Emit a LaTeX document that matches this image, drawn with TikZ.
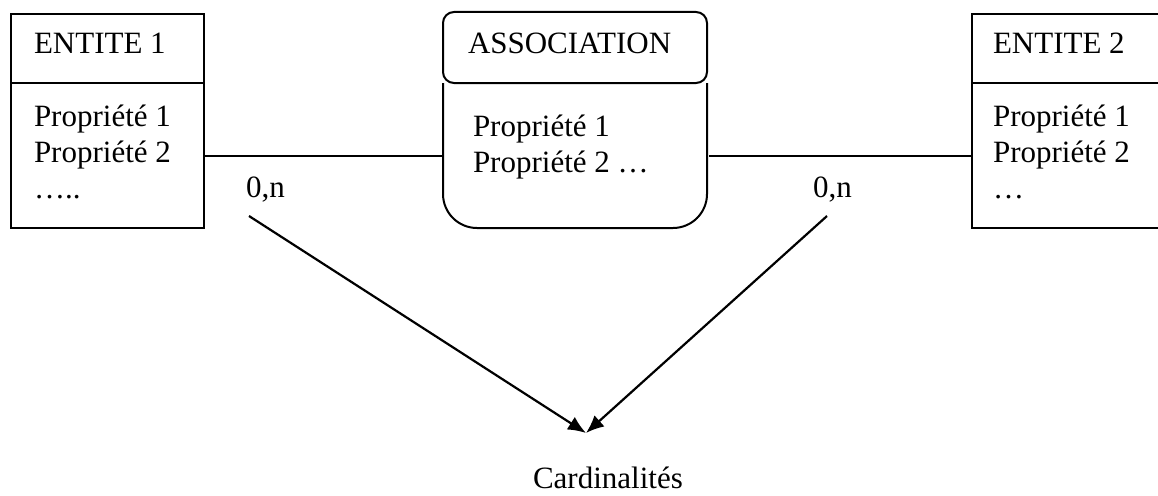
\documentclass[tikz,border=0pt]{standalone}
\usepackage{fontspec}
\setmainfont{Liberation Serif}
\usetikzlibrary{arrows.meta}
\begin{document}
\begin{tikzpicture}[x=1pt,y=-1pt,
  line width=2pt,
  txt/.style={inner sep=0pt, anchor=base west, font=\fontsize{31}{36}\selectfont},
  frame/.style={draw, line width=2pt, inner sep=0pt, anchor=north west},
  card/.style={-{Latex[length=18pt,width=15pt]}, line width=2.2pt}]
\useasboundingbox (0,0) rectangle (1158,495);
\clip (0,0) rectangle (1158,495);

% entity 1
\node[frame, minimum width=193pt, minimum height=214pt] (e1) at (10,13) {};
\draw (10,83) -- (203,83);
\node[txt] (e1t) at (33,53) {ENTITE 1};
\node[txt] (e1p1) at (33,126) {Propriété 1};
\node[txt] (e1p2) at (33,162) {Propriété 2};
\node[txt] (e1p3) at (33,198) {…..};

% entity 2
\node[frame, minimum width=200pt, minimum height=214pt] (e2) at (971,13) {};
\draw (971,83) -- (1171,83);
\node[txt] (e2t) at (992,53) {ENTITE 2};
\node[txt] (e2p1) at (992,126) {Propriété 1};
\node[txt] (e2p2) at (992,162) {Propriété 2};
\node[txt] (e2p3) at (992,198) {…};

% association: rounded header over a body with rounded bottom
\node[inner sep=0pt, anchor=north west, minimum width=264pt, minimum height=216pt] (as) at (443,12) {};
\draw[rounded corners=11pt] (443,12) rectangle (707,83);
\draw[rounded corners=34pt] (443,83) -- (443,228) -- (707,228) -- (707,83);
\node[txt] (ast) at (467,53) {ASSOCIATION};
\node[txt] (asp1) at (472,136) {Propriété 1};
\node[txt] (asp2) at (472,172) {Propriété 2 …};

% links
\coordinate (lk) at (0,156);
\draw (e1.east |- lk) -- (as.west |- lk);
\draw (as.east |- lk) -- (e2.west |- lk);

% cardinalities
\node[txt] (c1) at (245,197) {0,n};
\node[txt] (c2) at (812,197) {0,n};
\node[txt] (cards) at (532,488) {Cardinalités};
\coordinate (s1) at (249,216);
\coordinate (s2) at (827,216);
\coordinate (tip) at (586,433);
\draw[card] (s1) -- (tip);
\draw[card] (s2) -- (tip);
\end{tikzpicture}
\end{document}
